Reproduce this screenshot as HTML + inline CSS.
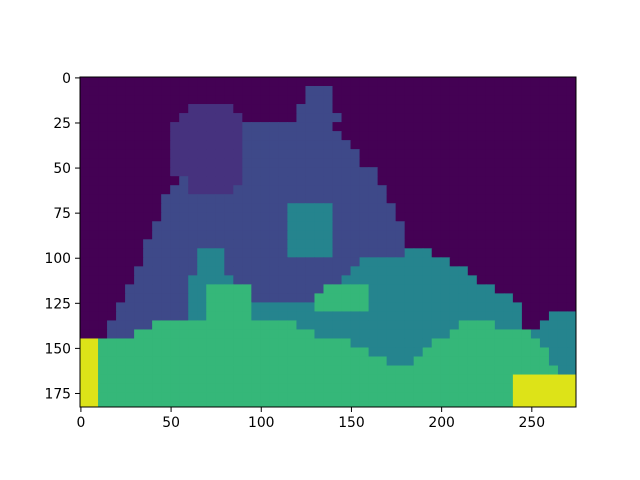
<!DOCTYPE html>
<html><head><meta charset="utf-8">
<style>
html,body{margin:0;padding:0;background:#fff;}
svg{display:block;}
text{font-family:"DejaVu Sans","Liberation Sans",sans-serif;font-size:13.9px;fill:#000;}
</style></head>
<body>
<svg id="chart" width="640" height="480" xmlns="http://www.w3.org/2000/svg">
<defs><clipPath id="ax"><rect x="80" y="77" width="496" height="330"/></clipPath></defs>
<g id="cells" clip-path="url(#ax)"></g>
<rect x="80" y="77" width="496" height="330" fill="none" stroke="#000" stroke-width="1"/>
<g id="ticks"></g>
</svg>
<script>
// Image: 275 x 183 label map, coarse 5x5 cell grid, run-length encoded rows
const imgW = 275;
const imgH = 183;
const cellSize = 5;
const classColors = {a:"#440154", b:"#46327e", c:"#3e4989", d:"#25848e", e:"#35b779", g:"#dde318"};
const rows = [
"a55",
"a25c3a27",
"a25c3a27",
"a12b5a7c4a27",
"a11b7a6c5a26",
"a10b8c10a27",
"a10b8c11a26",
"a10b8c12a25",
"a10b8c13a24",
"a10b8c13a24",
"a10b8c15a22",
"a11c1b6c15a22",
"a10c2b5c17a21",
"a9c25a21",
"a9c14d5c7a20",
"a9c14d5c7a20",
"a8c15d5c8a19",
"a8c15d5c8a19",
"a7c16d5c8a19",
"a7c6d3c7d5c8d3a16",
"a7c6d3c15d10a14",
"a6c7d3c14d13a12",
"a6c6d5c12d15a11",
"a5c7d2e5c8e5d14a9",
"a5c7d2e5c7e6d16a7",
"a4c8d2e5d7e6d17a6",
"a4c8d2e5d30a3d3",
"a3c5e16d18e4d3a2d4",
"a3c3e20d15e9d5",
"g2e28d9e12d4",
"g2e30d6e14d3",
"g2e32d3e15d3",
"g2e51d2",
"g2e46g7",
"g2e46g7",
"g2e46g7",
"g2e46g7"
];
const xTicks = [0,50,100,150,200,250];
const yTicks = [0,25,50,75,100,125,150,175];

const X0=80, Y0=77, W=496, H=330;
const sx = W/imgW, sy = H/imgH;
function xPix(u){ return X0 + (u+0.5)*sx; } // data coordinate (pixel center) -> px
function yPix(v){ return Y0 + (v+0.5)*sy; }
function decode(s){ const out=[]; const re=/([a-z])(\d+)/g; let m; while((m=re.exec(s))){ for(let i=0;i<+m[2];i++) out.push(m[1]); } return out; }

const NS="http://www.w3.org/2000/svg";
const cg=document.getElementById('cells');
rows.forEach((r,i)=>{
  const cells=decode(r);
  cells.forEach((k,j)=>{
    const x1=xPix(j*cellSize-0.5), x2=xPix(Math.min((j+1)*cellSize,imgW)-0.5);
    const y1=yPix(i*cellSize-0.5), y2=yPix(Math.min((i+1)*cellSize,imgH)-0.5);
    const rc=document.createElementNS(NS,'rect');
    rc.setAttribute('x',x1); rc.setAttribute('y',y1);
    rc.setAttribute('width',x2-x1+0.6); rc.setAttribute('height',y2-y1+0.6);
    rc.setAttribute('fill',classColors[k]);
    
    
    cg.appendChild(rc);
  });
});
const tg=document.getElementById('ticks');
xTicks.forEach(v=>{
  const x=xPix(v);
  const l=document.createElementNS(NS,'line');
  l.setAttribute('x1',x);l.setAttribute('x2',x);l.setAttribute('y1',407);l.setAttribute('y2',412);
  l.setAttribute('stroke','#000');
  
  
  tg.appendChild(l);
  const t=document.createElementNS(NS,'text');
  t.setAttribute('x',x);t.setAttribute('y',427);t.setAttribute('text-anchor','middle');
  t.textContent=v;
  
  
  tg.appendChild(t);
});
yTicks.forEach(v=>{
  const y=yPix(v);
  const l=document.createElementNS(NS,'line');
  l.setAttribute('x1',75);l.setAttribute('x2',80);l.setAttribute('y1',y);l.setAttribute('y2',y);
  l.setAttribute('stroke','#000');
  
  
  tg.appendChild(l);
  const t=document.createElementNS(NS,'text');
  t.setAttribute('x',71);t.setAttribute('y',y+5);t.setAttribute('text-anchor','end');
  t.textContent=v;
  
  
  tg.appendChild(t);
});
</script>
</body></html>
